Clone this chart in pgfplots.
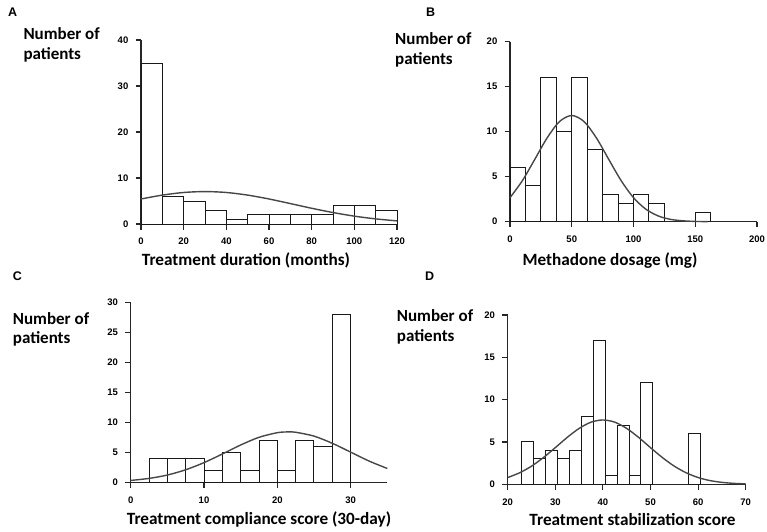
\documentclass[border=0pt]{standalone}
\usepackage{pgfplots}
\pgfplotsset{compat=1.18}
\usepackage{fontspec}
\setmainfont{Carlito}
\newfontfamily\arialfont{Liberation Sans}

\pgfplotsset{
  hist/.style={
    scale only axis,
    axis lines=left,
    axis line style={-, line width=1.1pt, color=black!85},
    xtick pos=bottom, ytick pos=left,
    xtick align=outside, ytick align=outside,
    major tick length=5.5pt,
    major tick style={draw=black!85, line width=1.1pt},
    /pgf/number format/assume math mode=true,
    tick label style={font=\arialfont\bfseries\fontsize{9.5}{9.5}\selectfont, inner sep=1pt},
    yticklabel style={xshift=-6pt},
    xticklabel style={yshift=-7.5pt},
    anchor=south west,
    clip=false,
  },
  bars/.style={ybar interval, fill=white, draw=black!90, line width=1pt},
  fit/.style={smooth, no markers, color=black!72, line width=1.4pt},
}

\begin{document}
\begin{tikzpicture}
\path[use as bounding box] (0,0) rectangle (767pt,531pt);

% ---------------- Panel A ----------------
\begin{axis}[hist, at={(141pt,307pt)}, width=256pt, height=184pt,
  xmin=0, xmax=120, ymin=0, ymax=40,
  xtick={0,20,...,120}, ytick={0,10,...,40}]
\addplot[bars] coordinates {(0,35) (10,6) (20,5) (30,3) (40,1) (50,2) (60,2) (70,2) (80,2) (90,4) (100,4) (110,3) (120,3)};
\addplot[fit] coordinates {(0,5.44) (10,6.28) (20,6.85) (30,7.05) (40,6.85) (50,6.28) (60,5.44) (70,4.44) (80,3.42) (90,2.49) (100,1.71) (110,1.11) (120,0.68)};
\end{axis}

% ---------------- Panel B ----------------
\begin{axis}[hist, at={(510pt,309.3pt)}, width=247pt, height=180pt,
  xmin=0, xmax=200, ymin=0, ymax=20,
  xtick={0,50,...,200}, ytick={0,5,...,20}]
\addplot[bars] coordinates {(0,6) (12.5,4) (25,16) (37.5,10) (50,16) (62.5,8) (75,3) (87.5,2) (100,3) (112.5,2) (125,2)};
\addplot[bars] coordinates {(150,1) (162.5,1)};
\addplot[fit] coordinates {(0,2.67) (10,4.56) (20,6.91) (30,9.30) (40,11.12) (50,11.8) (60,11.12) (70,9.30) (80,6.91) (90,4.56) (100,2.67) (110,1.39) (120,0.64) (130,0.26) (140,0.10) (150,0.03) (160,0.01)};
\end{axis}

% ---------------- Panel C ----------------
\begin{axis}[hist, at={(130.7pt,48.7pt)}, width=256.6pt, height=180pt,
  xmin=0, xmax=35, ymin=0, ymax=30,
  xtick={0,10,20,30}, ytick={0,5,...,30}]
\addplot[bars] coordinates {(2.5,4) (5,4) (7.5,4) (10,2) (12.5,5) (15,2) (17.5,7) (20,2) (22.5,7) (25,6) (27.5,28) (30,28)};
\addplot[fit] coordinates {(0,0.31) (2.5,0.65) (5,1.21) (7.5,2.09) (10,3.28) (12.5,4.72) (15,6.22) (17.5,7.50) (20,8.27) (21.5,8.4) (22.5,8.34) (25,7.70) (27.5,6.50) (30,5.03) (32.5,3.55) (35,2.30)};
\end{axis}

% ---------------- Panel D ----------------
\begin{axis}[hist, at={(507.7pt,46.7pt)}, width=238pt, height=169.3pt,
  xmin=20, xmax=70, ymin=0, ymax=20,
  xtick={20,30,...,70}, ytick={0,5,...,20}]
\addplot[bars] coordinates {(23,5) (25.5,3) (28,4) (30.5,3) (33,4) (35.5,8) (38,17) (40.5,1) (43,7) (45.5,1) (48,12) (50.5,12)};
\addplot[bars] coordinates {(58,6) (60.5,6)};
\addplot[fit] coordinates {(20,0.80) (22.5,1.36) (25,2.14) (27.5,3.16) (30,4.33) (32.5,5.54) (35,6.60) (37.5,7.34) (40,7.6) (42.5,7.34) (45,6.60) (47.5,5.54) (50,4.33) (52.5,3.16) (55,2.14) (57.5,1.36) (60,0.80) (62.5,0.44) (65,0.23) (67.5,0.11) (70,0.05)};
\end{axis}

% ---------------- Texts ----------------
\tikzset{panel/.style={inner sep=0pt, anchor=base west, font=\arialfont\bfseries\fontsize{12.5}{12.5}\selectfont},
         ylab/.style={inner sep=0pt, anchor=base west, font=\bfseries\fontsize{17}{17}\selectfont},
         xlab/.style={inner sep=0pt, anchor=base, font=\bfseries\fontsize{17.2}{17.2}\selectfont}}
\node[panel] at (8pt,514pt) {A};
\node[panel] at (426pt,514pt) {B};
\node[panel] at (12.7pt,250.3pt) {C};
\node[panel] at (425pt,250.3pt) {D};

\node[ylab] at (23.3pt,491.5pt) {Number of};
\node[ylab] at (23.3pt,471pt) {patients};
\node[ylab] at (395pt,486.7pt) {Number of};
\node[ylab] at (395pt,466.7pt) {patients};
\node[ylab] at (12.7pt,207pt) {Number of};
\node[ylab] at (12.7pt,187.7pt) {patients};
\node[ylab] at (396.7pt,209.3pt) {Number of};
\node[ylab] at (396.7pt,189.3pt) {patients};

\node[xlab] at (246pt,266pt) {Treatment duration (months)};
\node[xlab] at (610pt,266pt) {Methadone dosage (mg)};
\node[xlab] at (259pt,7pt) {Treatment compliance score (30-day)};
\node[xlab] at (632.5pt,6pt) {Treatment stabilization score};
\end{tikzpicture}
\end{document}
